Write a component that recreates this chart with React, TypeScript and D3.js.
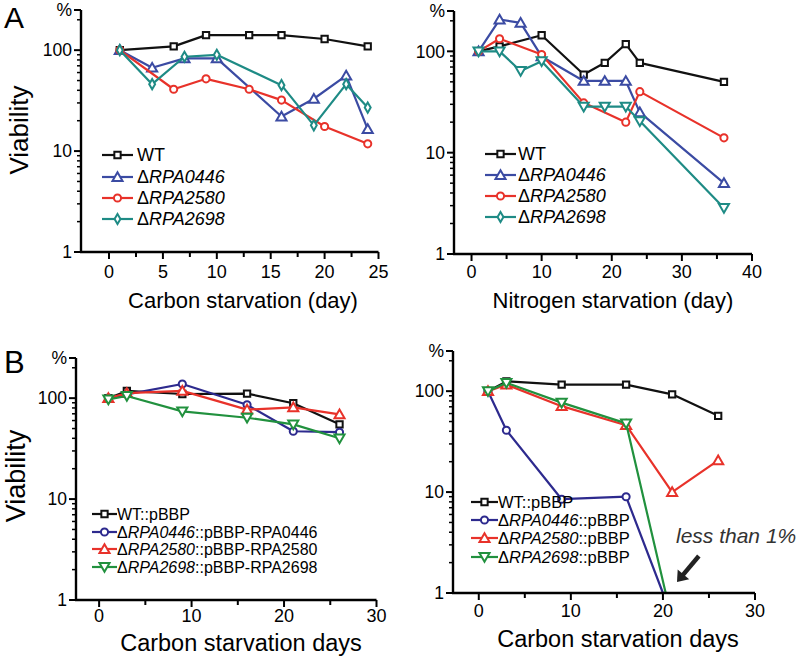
import * as d3 from 'd3';

const FONT = "'Liberation Sans', Arial, Helvetica, sans-serif";

// A, carbon starvation
const acDaysWT = [1, 6, 9, 13, 16, 20, 24];
const acWT = [100, 109, 141, 141, 141, 129, 109];
const acDays0446 = [1, 4, 7, 10, 16, 19, 22, 24];
const ac0446 = [100, 67, 83, 83, 22, 33, 56, 16.5];
const acDays2580 = [1, 6, 9, 13, 16, 20, 24];
const ac2580 = [100, 41, 52, 41, 32, 17.5, 11.8];
const acDays2698 = [1, 4, 7, 10, 16, 19, 22, 24];
const ac2698 = [100, 46, 86, 90, 45, 18, 46, 27];

// A, nitrogen starvation
const anDaysWT = [1, 4, 10, 16, 19, 22, 24, 36];
const anWT = [100, 112, 144, 59, 77, 118, 77, 50];
const anDays0446 = [1, 4, 7, 10, 16, 19, 22, 24, 36];
const an0446 = [100, 206, 191, 89, 51, 51, 51, 25, 5.0];
const anDays2580 = [1, 4, 10, 16, 22, 24, 36];
const an2580 = [100, 133, 93, 31, 20, 40, 14];
const anDays2698 = [1, 4, 7, 10, 16, 19, 22, 24, 36];
const an2698 = [100, 100, 64, 80, 28.5, 28.5, 28.5, 20.5, 2.85];

// B, complemented strains
const bcDays = [1, 3, 9, 16, 21, 26];
const bcWT = [100, 118, 110, 111, 89, 55];
const bc0446 = [100, 109, 138, 86, 47, 46];
const bc2580 = [100, 112, 118, 77, 81, 69];
const bc2698 = [97, 105, 74, 64, 55, 40];

// B, empty vector
const beDays = [1, 3, 9, 16, 21, 26];
const beWT = [100, 125, 116, 116, 93, 57];
const beDays0446 = [1, 3, 9, 16, 20];
const be0446 = [100, 41, 8.5, 9.0, 1];
const be2580 = [100, 116, 71, 46, 10, 20.6];
const beDays2698 = [1, 3, 9, 16, 20.3];
const be2698 = [100, 121, 77, 48, 1];

const yTickLabels = ['1', '10', '100'];

const BLACK = '#111';
const BLUE_A = '#3b4ba3';
const TEAL = '#1e8b85';
const RED = '#e8322a';
const NAVY = '#2d2a8e';
const GREEN = '#21913e';

type Series = {
  days: number[];
  values: number[];
  color: string;
  symbol: string;
  legendSymbol?: string;
  label: string[];
};

type PanelProps = {
  xDomain: [number, number];
  xRange: [number, number];
  yRange: [number, number];
  majorX: number[];
  minorX: number[];
  series: Series[];
  legendX: [number, number, number];
  legendY: number[];
  legendSize: number;
  xTitle: string;
  titleX: number;
  titleY: number;
  tickLabelY: number;
  titleSize: number;
};

function symbolPath(name: string) {
  const types: Record<string, d3.SymbolType> = {
    square: d3.symbolSquare,
    circle: d3.symbolCircle,
    triangle: d3.symbolTriangle,
    down: d3.symbolTriangle,
    diamond: d3.symbolDiamond
  };
  const sizes: Record<string, number> = { square: 40, circle: 40, triangle: 44, down: 44, diamond: 30 };
  return d3.symbol().type(types[name]).size(sizes[name])() || '';
}

function Marker({ x, y, name, color }: { x: number; y: number; name: string; color: string }) {
  const rot = name === 'down' ? ' rotate(180)' : '';
  const dy = name === 'triangle' ? 1 : name === 'down' ? -1 : 0;
  return (
    <path
      d={symbolPath(name)}
      transform={`translate(${x},${y + dy})${rot}`}
      fill="#fff"
      stroke={color}
      strokeWidth={2}
    />
  );
}

function Label({ parts }: { parts: string[] }) {
  return (
    <>
      <tspan>{parts[0]}</tspan>
      {parts[1] ? <tspan fontStyle="italic">{parts[1]}</tspan> : null}
      {parts[2] ? <tspan>{parts[2]}</tspan> : null}
    </>
  );
}

function Panel(p: PanelProps) {
  const x = d3.scaleLinear().domain(p.xDomain).range(p.xRange);
  const y = d3.scaleLog().domain([1, 250]).range(p.yRange);
  const line = d3
    .line<[number, number]>()
    .x((d) => x(d[0]))
    .y((d) => y(d[1]));
  const ax = p.xRange[0];
  const ay = p.yRange[0];
  const minorY: number[] = [];
  [1, 10, 100].forEach((k) => {
    for (let m = 2; m <= 9; m++) if (k * m <= 250) minorY.push(k * m);
  });

  return (
    <g fontFamily={FONT}>
      {p.series.map((s, i) => {
        const pts = s.days.map((d, j) => [d, s.values[j]] as [number, number]);
        return (
          <g key={i}>
            <path d={line(pts) || ''} fill="none" stroke={s.color} strokeWidth={2.2} strokeLinejoin="round" />
            {pts
              .filter((d) => d[1] > 1)
              .map((d, j) => (
                <Marker key={j} x={x(d[0])} y={y(d[1])} name={s.symbol} color={s.color} />
              ))}
          </g>
        );
      })}

      {/* axes */}
      <line x1={ax} x2={ax} y1={ay + 1} y2={p.yRange[1]} stroke="#000" strokeWidth={2.4} />
      <line x1={ax - 1} x2={p.xRange[1]} y1={ay} y2={ay} stroke="#000" strokeWidth={2.4} />
      {[1, 10, 100, 250].map((v) => (
        <line key={v} x1={ax - 7} x2={ax} y1={y(v)} y2={y(v)} stroke="#000" strokeWidth={2} />
      ))}
      {minorY.map((v) => (
        <line key={v} x1={ax - 4} x2={ax} y1={y(v)} y2={y(v)} stroke="#000" strokeWidth={1.5} />
      ))}
      {yTickLabels.map((t) => (
        <text key={t} x={ax - 9} y={y(+t)} dy="0.36em" textAnchor="end" fontSize={17.5}>
          {t}
        </text>
      ))}
      <text x={ax - 9} y={y(250)} dy="0.36em" textAnchor="end" fontSize={17.5}>
        %
      </text>
      {p.majorX.map((v) => (
        <g key={v}>
          <line x1={x(v)} x2={x(v)} y1={ay} y2={ay + 7} stroke="#000" strokeWidth={2} />
          <text x={x(v)} y={p.tickLabelY} textAnchor="middle" fontSize={18}>
            {v}
          </text>
        </g>
      ))}
      {p.minorX.map((v) => (
        <line key={v} x1={x(v)} x2={x(v)} y1={ay} y2={ay + 5} stroke="#000" strokeWidth={2} />
      ))}
      <text x={p.titleX} y={p.titleY} textAnchor="middle" fontSize={p.titleSize}>
        {p.xTitle}
      </text>

      {/* legend */}
      {p.series.map((s, i) => {
        const ly = p.legendY[i];
        return (
          <g key={i}>
            <line x1={p.legendX[0]} x2={p.legendX[1]} y1={ly} y2={ly} stroke={s.color} strokeWidth={2.2} />
            <Marker x={(p.legendX[0] + p.legendX[1]) / 2} y={ly} name={s.legendSymbol || s.symbol} color={s.color} />
            <text x={p.legendX[2]} y={ly} dy="0.36em" fontSize={p.legendSize}>
              <Label parts={s.label} />
            </text>
          </g>
        );
      })}
    </g>
  );
}

export default function App() {
  const aLabels = [['WT'], ['Δ', 'RPA0446'], ['Δ', 'RPA2580'], ['Δ', 'RPA2698']];
  const bcLabels = [
    ['WT::pBBP'],
    ['Δ', 'RPA0446', '::pBBP-RPA0446'],
    ['Δ', 'RPA2580', '::pBBP-RPA2580'],
    ['Δ', 'RPA2698', '::pBBP-RPA2698']
  ];
  const beLabels = [['WT::pBBP'], ['Δ', 'RPA0446', '::pBBP'], ['Δ', 'RPA2580', '::pBBP'], ['Δ', 'RPA2698', '::pBBP']];

  const arrowHead = d3.line()([
    [0, 0],
    [-10, -7.5],
    [-10, 7.5]
  ]) + 'Z';

  return (
    <svg width={800} height={658} style={{ position: 'absolute', left: 0, top: 0, background: '#fff' }}>
      <rect width={800} height={658} fill="#fff" />
      <text x={4} y={28} fontFamily={FONT} fontSize={30}>A</text>
      <text x={4} y={373} fontFamily={FONT} fontSize={31}>B</text>
      <text transform="translate(28,130) rotate(-90)" textAnchor="middle" fontFamily={FONT} fontSize={26}>
        Viability
      </text>
      <text transform="translate(25,476) rotate(-90)" textAnchor="middle" fontFamily={FONT} fontSize={27}>
        Viability
      </text>

      <Panel
        xDomain={[-2.6, 25]}
        xRange={[81, 378.5]}
        yRange={[252, 10]}
        majorX={[0, 5, 10, 15, 20, 25]}
        minorX={[2.5, 7.5, 12.5, 17.5, 22.5]}
        series={[
          { days: acDaysWT, values: acWT, color: BLACK, symbol: 'square', label: aLabels[0] },
          { days: acDays0446, values: ac0446, color: BLUE_A, symbol: 'triangle', label: aLabels[1] },
          { days: acDays2580, values: ac2580, color: RED, symbol: 'circle', label: aLabels[2] },
          { days: acDays2698, values: ac2698, color: TEAL, symbol: 'diamond', label: aLabels[3] }
        ]}
        legendX={[102, 133, 137]}
        legendY={[155, 177, 198, 219]}
        legendSize={18}
        xTitle="Carbon starvation (day)"
        titleX={243}
        titleY={308}
        tickLabelY={278}
        titleSize={22}
      />

      <Panel
        xDomain={[-2.5, 40]}
        xRange={[454, 752]}
        yRange={[254, 11]}
        majorX={[0, 10, 20, 30, 40]}
        minorX={[5, 15, 25, 35]}
        series={[
          { days: anDaysWT, values: anWT, color: BLACK, symbol: 'square', label: aLabels[0] },
          { days: anDays0446, values: an0446, color: BLUE_A, symbol: 'triangle', label: aLabels[1] },
          { days: anDays2580, values: an2580, color: RED, symbol: 'circle', label: aLabels[2] },
          { days: anDays2698, values: an2698, color: TEAL, symbol: 'down', legendSymbol: 'diamond', label: aLabels[3] }
        ]}
        legendX={[485, 516, 518]}
        legendY={[154, 175, 196, 217]}
        legendSize={18}
        xTitle="Nitrogen starvation (day)"
        titleX={613}
        titleY={308}
        tickLabelY={278}
        titleSize={22}
      />

      <Panel
        xDomain={[-2.5, 30]}
        xRange={[76, 376.5]}
        yRange={[600, 358]}
        majorX={[0, 10, 20, 30]}
        minorX={[5, 15, 25]}
        series={[
          { days: bcDays, values: bcWT, color: BLACK, symbol: 'square', label: bcLabels[0] },
          { days: bcDays, values: bc0446, color: NAVY, symbol: 'circle', label: bcLabels[1] },
          { days: bcDays, values: bc2580, color: RED, symbol: 'triangle', label: bcLabels[2] },
          { days: bcDays, values: bc2698, color: GREEN, symbol: 'down', label: bcLabels[3] }
        ]}
        legendX={[92, 117, 117]}
        legendY={[514, 532, 549, 567]}
        legendSize={16}
        xTitle="Carbon starvation days"
        titleX={241}
        titleY={651}
        tickLabelY={622}
        titleSize={23.5}
      />

      <Panel
        xDomain={[-2.8, 30]}
        xRange={[453, 755]}
        yRange={[593, 351]}
        majorX={[0, 10, 20, 30]}
        minorX={[5, 15, 25]}
        series={[
          { days: beDays, values: beWT, color: BLACK, symbol: 'square', label: beLabels[0] },
          { days: beDays0446, values: be0446, color: NAVY, symbol: 'circle', label: beLabels[1] },
          { days: beDays, values: be2580, color: RED, symbol: 'triangle', label: beLabels[2] },
          { days: beDays2698, values: be2698, color: GREEN, symbol: 'down', label: beLabels[3] }
        ]}
        legendX={[471, 498, 498]}
        legendY={[502, 520, 538, 557]}
        legendSize={16.5}
        xTitle="Carbon starvation days"
        titleX={618}
        titleY={647}
        tickLabelY={617}
        titleSize={23.5}
      />

      <text x={676} y={543} fontFamily={FONT} fontSize={21} fontStyle="italic" fill="#333">
        less than 1%
      </text>
      <g transform="translate(677,582) rotate(-50)">
        <line x1={8} x2={34} y1={0} y2={0} stroke="#222" strokeWidth={4.5} />
        <path d={arrowHead} fill="#222" transform="rotate(180)" />
      </g>
    </svg>
  );
}
